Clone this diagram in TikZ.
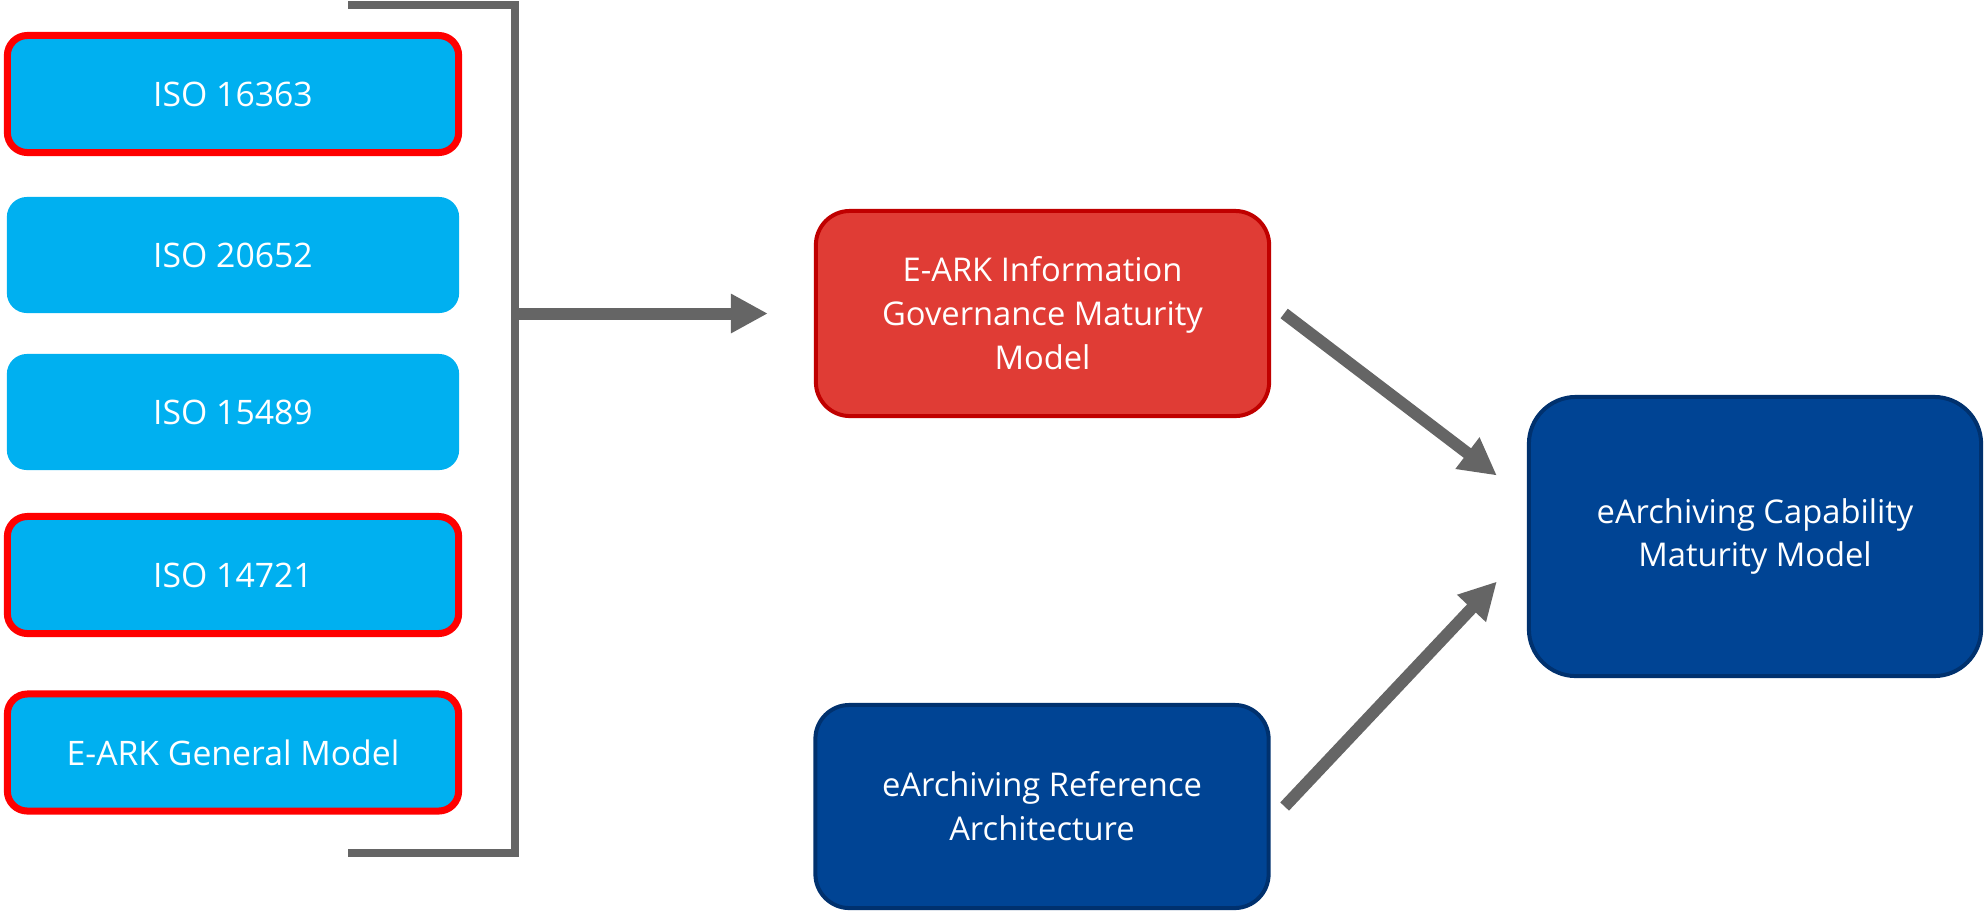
\documentclass[tikz,border=0pt]{standalone}
\usepackage{fontspec}
\setmainfont{Open Sans}
\usepackage{tikz}
\usetikzlibrary{arrows.meta,positioning,calc}
\usepackage{xcolor}
\definecolor{isoblue}{HTML}{00B0F0}
\definecolor{hlred}{HTML}{FF0000}
\definecolor{govred}{HTML}{E03C35}
\definecolor{govedge}{HTML}{C00000}
\definecolor{ecblue}{HTML}{004494}
\definecolor{ecedge}{HTML}{00316E}
\definecolor{linegray}{HTML}{656565}

\begin{document}
\begin{tikzpicture}[x=0.01cm, y=-0.01cm,
    stdbox/.style={fill=isoblue, rounded corners=0.2cm, minimum width=4.52cm,
        minimum height=1.16cm, inner sep=0pt, text=white,
        font=\fontsize{9.6}{12}\selectfont},
    keybox/.style={stdbox, draw=hlred, line width=0.07cm,
        minimum width=4.51cm, minimum height=1.17cm},
    govbox/.style={fill=govred, draw=govedge, line width=0.04cm,
        rounded corners=0.34cm, minimum width=4.53cm, minimum height=2.05cm,
        inner sep=0pt, align=center, text=white,
        font=\fontsize{9.3}{12.5}\selectfont},
    eubox/.style={govbox, fill=ecblue, draw=ecedge},
    bracket/.style={draw=linegray, line width=0.08cm},
    arrow/.style={draw=linegray, line width=0.12cm,
        -{Triangle[length=0.37cm, width=0.37cm]}}]
    \useasboundingbox (0,0) rectangle (1985,911);

    % Standards
    \node[keybox] (iso1) at (233,94) {ISO 16363};
    \node[stdbox] (iso2) at (233,255) {ISO 20652};
    \node[stdbox] (iso3) at (233,412) {ISO 15489};
    \node[keybox] (iso4) at (233,575) {ISO 14721};
    \node[keybox] (gen) at (233,752.5) {E-ARK General Model};

    % Bracket
    \coordinate (brtop) at (515,5);
    \coordinate (brmid) at (515,313.5);
    \coordinate (brbot) at (515,852.5);
    \draw[bracket] (348,5) -- (brtop) -- (brbot) -- (348,852.5);

    % Models
    \node[govbox] (gov) at (1042.5,313.5) {E-ARK Information\\Governance Maturity\\Model};
    \node[eubox, minimum height=2.03cm] (ref) at (1042,806.5) {eArchiving Reference\\Architecture};
    \node[eubox, minimum width=4.52cm, minimum height=2.79cm, rounded corners=0.47cm]
        (cmm) at (1755,536.5) {eArchiving Capability\\Maturity Model};

    % Arrows
    \draw[arrow] (brmid) -- ($(gov.west)+(-46,0)$);
    \draw[arrow] ($(gov.east)+(13,0)$) -- ($(cmm.west)+(-30,-61)$);
    \draw[arrow] ($(ref.east)+(14,0)$) -- ($(cmm.west)+(-30,45)$);
\end{tikzpicture}
\end{document}
